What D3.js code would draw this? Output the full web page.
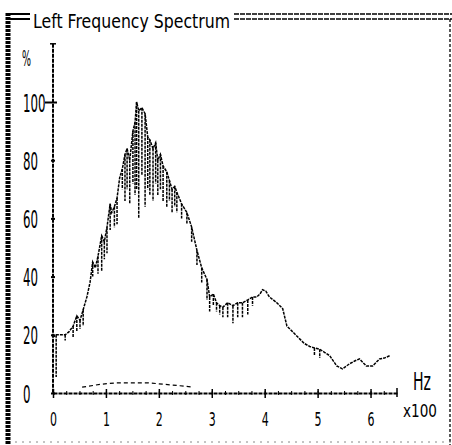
<!DOCTYPE html>
<html>
<head>
<meta charset="utf-8">
<script src="https://cdn.jsdelivr.net/npm/d3@7"></script>
<style>
body { margin: 0; background: #fff; }
svg { display: block; }
text { font-family: "DejaVu Sans", sans-serif; fill: #000; }
</style>
</head>
<body>
<div id="chart"></div>
<script>
// Size of the page
var w = 452;
var h = 445;

// Spectrum: frequency (x100 Hz), upper level and lower level (%) of each bin
var freq = [0.00, 0.03, 0.06, 0.15, 0.23, 0.30, 0.38, 0.45, 0.51, 0.57, 0.64, 0.70, 0.75, 0.80, 0.85,
            0.92, 0.97, 1.02, 1.08, 1.11, 1.16, 1.21, 1.26, 1.31, 1.36, 1.40, 1.45, 1.51, 1.55, 1.58,
            1.62, 1.68, 1.74, 1.79, 1.83, 1.89, 1.94, 1.98, 2.03, 2.08, 2.15, 2.20, 2.25, 2.30, 2.34,
            2.43, 2.53, 2.62, 2.72, 2.81, 2.91, 2.96, 3.03, 3.09, 3.15, 3.21, 3.30, 3.40, 3.49, 3.58,
            3.68, 3.77, 3.85, 3.91, 3.96, 4.02, 4.09, 4.16, 4.23, 4.34, 4.42, 4.53, 4.66, 4.75, 4.85,
            4.94, 5.04, 5.13, 5.23, 5.36, 5.47, 5.60, 5.70, 5.79, 5.92, 6.04, 6.17, 6.26, 6.36];
var levelHigh = [20, 19.5, 20, 20, 20, 21, 23, 26.5, 25, 28.6, 33, 38, 45, 43, 47,
                 54, 52, 57, 65, 62, 64, 67, 74, 77, 82, 84, 80, 90, 93, 100,
                 97, 98, 96, 88, 87, 84, 86, 80, 82, 78, 76, 73, 70, 71, 69,
                 65, 62, 57, 49, 43, 39, 33, 34, 31, 30, 29.5, 31, 30, 31, 31,
                 32, 33, 33, 34, 35.5, 35, 33, 32, 31, 29, 23, 21, 18.6, 17, 16,
                 15.5, 15, 14, 12.8, 9.3, 8.3, 10, 11, 11.7, 9.3, 9.3, 11.7, 12, 12.8];
var levelLow = [20, 19.5, 5.5, 20, 18, 21, 19, 21, 22, 23, 33, 38, 40, 43, 41,
                42, 46, 48, 56, 62, 57, 58, 74, 70, 66, 70, 65, 72, 68, 70,
                60, 75, 64, 70, 68, 66, 72, 68, 70, 66, 64, 66, 62, 64, 62,
                60, 58, 52, 44, 38, 32, 28, 30, 28, 27, 26, 26, 24, 26, 26,
                27, 30, 33, 34, 35.5, 35, 33, 32, 31, 29, 23, 21, 18.6, 17, 16,
                13, 12, 14, 12.8, 9.3, 8.3, 10, 11, 11.7, 9.3, 9.3, 11.7, 12, 12.8];

// Low dashed trace just above the axis
var floorFreq = [0.55, 0.90, 1.20, 1.50, 1.80, 2.10, 2.40, 2.65];
var floorLevel = [2, 3, 3.5, 3.5, 3.5, 3, 2.5, 2];

// Tick labels
var xTicks = [0, 1, 2, 3, 4, 5, 6];
var yTicks = [0, 20, 40, 60, 80, 100];

// Scales
var xScale = d3.scaleLinear().domain([0, 6.5]).range([53, 397]);
var yScale = d3.scaleLinear().domain([0, 100]).range([393, 102]);

var svg = d3.select("#chart")
    .append("svg")
    .attr("width", w)
    .attr("height", h);

// Frame round the panel
svg.append("line")
    .attr("x1", 8).attr("x2", 8).attr("y1", 13).attr("y2", h)
    .attr("stroke", "#000").attr("stroke-width", 5).attr("stroke-dasharray", "3,1");
[14, 19].forEach(function (y) {
    svg.append("line")
        .attr("x1", 8).attr("x2", 30).attr("y1", y).attr("y2", y)
        .attr("stroke", "#000").attr("stroke-width", 2);
    svg.append("line")
        .attr("x1", 234).attr("x2", w).attr("y1", y).attr("y2", y)
        .attr("stroke", "#000").attr("stroke-width", 1.6).attr("stroke-dasharray", "5,1");
});
svg.append("line")
    .attr("x1", 450).attr("x2", 450).attr("y1", 19).attr("y2", h)
    .attr("stroke", "#000").attr("stroke-width", 1.3).attr("stroke-dasharray", "3,2");
svg.append("line")
    .attr("x1", 15).attr("x2", w).attr("y1", 442).attr("y2", 442)
    .attr("stroke", "#888").attr("stroke-width", 1).attr("stroke-dasharray", "2,5");

// Title
svg.append("text")
    .attr("x", 33).attr("y", 28)
    .attr("font-size", 20)
    .attr("textLength", 197).attr("lengthAdjust", "spacingAndGlyphs")
    .text("Left Frequency Spectrum");

// X axis
var xAxis = d3.axisBottom(xScale).tickValues(xTicks).tickSize(4).tickSizeOuter(0)
    .tickFormat(d3.format("d"));
var gx = svg.append("g")
    .attr("class", "x-axis")
    .attr("transform", "translate(0," + yScale(0) + ")")
    .call(xAxis);
gx.select(".domain").attr("stroke-width", 1.8).attr("stroke-dasharray", "4,1");
gx.selectAll(".tick line").attr("y1", -4).attr("y2", 5).attr("stroke-width", 1.5);
gx.selectAll(".tick text")
    .attr("y", 33).attr("dy", null)
    .attr("font-size", 20).attr("font-family", "DejaVu Sans")
    .attr("textLength", 7).attr("lengthAdjust", "spacingAndGlyphs");

// Minor x ticks
var gxm = svg.append("g")
    .attr("transform", "translate(0," + yScale(0) + ")")
    .call(d3.axisBottom(xScale).tickValues(d3.range(0.25, 6.5, 0.25)).tickSize(2).tickSizeOuter(0).tickFormat(""));
gxm.select(".domain").remove();
gxm.selectAll(".tick line").attr("y1", -2).attr("y2", 2);

// End tick of x axis
svg.append("line")
    .attr("x1", xScale(6.5)).attr("x2", xScale(6.5))
    .attr("y1", yScale(0) - 5).attr("y2", yScale(0) + 4)
    .attr("stroke", "#000").attr("stroke-width", 1.5);

// Y axis
var yTop = yScale(120);
var yAxis = d3.axisLeft(yScale).tickValues(yTicks).tickSize(3).tickSizeOuter(0);
var gy = svg.append("g")
    .attr("class", "y-axis")
    .attr("transform", "translate(" + xScale(0) + ",0)")
    .call(yAxis);
gy.select(".domain").remove();
gy.append("line")
    .attr("y1", yTop).attr("y2", yScale(0))
    .attr("stroke", "#000").attr("stroke-width", 2).attr("stroke-dasharray", "4,1");
gy.append("line")
    .attr("x1", -3).attr("x2", 3).attr("y1", yTop).attr("y2", yTop)
    .attr("stroke", "#000").attr("stroke-width", 1.5);
gy.selectAll(".tick line")
    .attr("x1", function (d) { return d === 100 ? -8 : -2; })
    .attr("x2", function (d) { return d === 100 ? 4 : 2; })
    .attr("stroke-width", 2);
gy.selectAll(".tick text")
    .attr("x", -30).attr("dy", "0.36em")
    .attr("text-anchor", "start")
    .attr("font-size", 25).attr("font-family", "DejaVu Sans")
    .attr("textLength", function (d) { return String(d).length * 7.5; })
    .attr("lengthAdjust", "spacingAndGlyphs");

// Axis unit labels
svg.append("text")
    .attr("x", 22).attr("y", 66)
    .attr("font-size", 22)
    .attr("textLength", 9).attr("lengthAdjust", "spacingAndGlyphs")
    .text("%");
svg.append("text")
    .attr("x", 413).attr("y", 390)
    .attr("font-size", 25)
    .attr("textLength", 18).attr("lengthAdjust", "spacingAndGlyphs")
    .text("Hz");
svg.append("text")
    .attr("x", 403).attr("y", 417)
    .attr("font-size", 18)
    .attr("textLength", 34).attr("lengthAdjust", "spacingAndGlyphs")
    .text("x100");

// Low trace near the axis
var floorLine = d3.line()
    .x(function (d, i) { return xScale(floorFreq[i]); })
    .y(function (d) { return yScale(d); });
svg.append("path")
    .datum(floorLevel)
    .attr("fill", "none")
    .attr("stroke", "#000")
    .attr("stroke-width", 1.2)
    .attr("stroke-dasharray", "4,3")
    .attr("d", floorLine);

// Vertical spread of each bin
var spreadIdx = d3.range(freq.length).filter(function (i) { return levelLow[i] < levelHigh[i]; });
svg.selectAll(".spread")
    .data(spreadIdx)
    .enter()
    .append("line")
    .attr("class", "spread")
    .attr("x1", function (i) { return xScale(freq[i]); })
    .attr("x2", function (i) { return xScale(freq[i]); })
    .attr("y1", function (i) { return yScale(levelHigh[i]); })
    .attr("y2", function (i) { return yScale(levelLow[i]); })
    .attr("stroke", "#000")
    .attr("stroke-width", 1.5)
    .attr("stroke-dasharray", "3,1");

// Spectrum line
var specLine = d3.line()
    .x(function (d, i) { return xScale(freq[i]); })
    .y(function (d) { return yScale(d); });
svg.append("path")
    .datum(levelHigh)
    .attr("fill", "none")
    .attr("stroke", "#000")
    .attr("stroke-width", 1.5)
    .attr("stroke-dasharray", "3,1")
    .attr("d", specLine);
</script>
</body>
</html>
